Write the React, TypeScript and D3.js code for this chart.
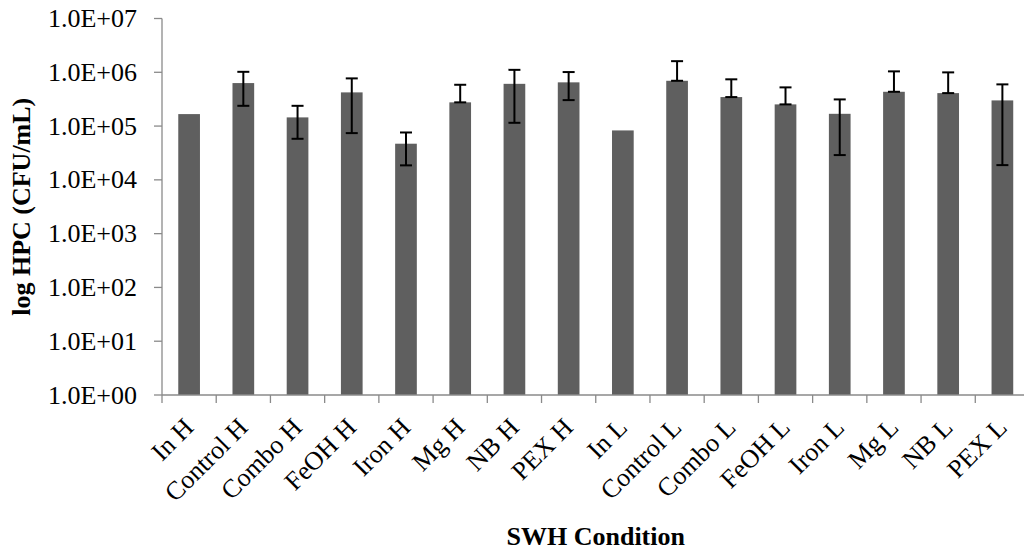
import React from "react";
import * as d3 from "d3";

const categories = [
  "In H", "Control H", "Combo H", "FeOH H", "Iron H", "Mg H", "NB H", "PEX H",
  "In L", "Control L", "Combo L", "FeOH L", "Iron L", "Mg L", "NB L", "PEX L",
];
const means = [
  1.67e5, 6.3e5, 1.45e5, 4.23e5, 4.7e4, 2.76e5, 6.1e5, 6.5e5,
  8.3e4, 6.95e5, 3.46e5, 2.53e5, 1.69e5, 4.34e5, 4.1e5, 3.0e5,
];
const errUpper = [
  null, 1.02e6, 2.38e5, 7.7e5, 7.6e4, 5.86e5, 1.11e6, 1.01e6,
  null, 1.61e6, 7.4e5, 5.24e5, 3.13e5, 1.04e6, 9.96e5, 5.96e5,
];
const errLower = [
  null, 2.38e5, 5.8e4, 7.4e4, 1.86e4, 2.76e5, 1.15e5, 3.04e5,
  null, 6.95e5, 3.46e5, 2.53e5, 2.89e4, 4.34e5, 4.1e5, 1.88e4,
];
const yTicks = [1, 1e1, 1e2, 1e3, 1e4, 1e5, 1e6, 1e7];

const W = 1024;
const H = 551;
const left = 162;
const right = 1029.5;
const top = 18.5;
const bottom = 395;
const axisColor = "#8a8a8a";
const barColor = "#5f5f5f";
const font = "'Liberation Serif', 'Times New Roman', serif";

const fmt = (v: number) => {
  const e = Math.round(Math.log10(v));
  return `1.0E+${String(e).padStart(2, "0")}`;
};

export default function App() {
  const x = d3
    .scaleBand<string>()
    .domain(categories)
    .range([left, right])
    .paddingInner(0.6)
    .paddingOuter(0.3);
  const y = d3.scaleLog().domain([1, 1e7]).range([bottom, top]);
  const step = x.step();
  const bw = x.bandwidth();
  const boundaries = d3.range(categories.length + 1).map((i) => left + i * step);
  const capHalf = 6;

  return (
    <svg
      width={W}
      height={H}
      style={{ position: "absolute", left: 0, top: 0, background: "#fff" }}
      fontFamily={font}
    >
      {/* bars */}
      {categories.map((c, i) => (
        <rect
          key={c}
          x={x(c)}
          y={y(means[i])}
          width={bw}
          height={bottom - y(means[i])}
          fill={barColor}
        />
      ))}

      {/* error bars */}
      {categories.map((c, i) => {
        const hi = errUpper[i];
        const lo = errLower[i];
        if (hi == null || lo == null) return null;
        const cx = (x(c) as number) + bw / 2;
        return (
          <g key={c} stroke="#000" strokeWidth={2}>
            <line x1={cx} x2={cx} y1={y(hi)} y2={y(lo)} />
            <line x1={cx - capHalf} x2={cx + capHalf} y1={y(hi)} y2={y(hi)} />
            <line x1={cx - capHalf} x2={cx + capHalf} y1={y(lo)} y2={y(lo)} />
          </g>
        );
      })}

      {/* y axis */}
      <line x1={left} x2={left} y1={top} y2={bottom} stroke={axisColor} strokeWidth={1.3} />
      {yTicks.map((t) => (
        <g key={t}>
          <line x1={left - 8} x2={left} y1={y(t)} y2={y(t)} stroke={axisColor} strokeWidth={1.3} />
          <text x={137} y={y(t) + 8.5} textAnchor="end" fontSize={26} fill="#000">
            {fmt(t)}
          </text>
        </g>
      ))}

      {/* x axis */}
      <line x1={left} x2={right} y1={bottom} y2={bottom} stroke={axisColor} strokeWidth={1.3} />
      {boundaries.map((bx, i) => (
        <line key={i} x1={bx} x2={bx} y1={bottom} y2={bottom + 8} stroke={axisColor} strokeWidth={1.3} />
      ))}
      {categories.map((c) => {
        const cx = (x(c) as number) + bw / 2;
        return (
          <text
            key={c}
            transform={`translate(${cx + 6},${429}) rotate(-45)`}
            textAnchor="end"
            fontSize={26}
            fill="#000"
          >
            {c}
          </text>
        );
      })}

      {/* axis titles */}
      <text
        transform={`translate(30,${(top + bottom) / 2}) rotate(-90)`}
        textAnchor="middle"
        fontSize={26}
        fontWeight="bold"
        fill="#000"
      >
        log HPC (CFU/mL)
      </text>
      <text
        x={(left + right) / 2}
        y={545}
        textAnchor="middle"
        fontSize={26}
        fontWeight="bold"
        fill="#000"
      >
        SWH Condition
      </text>
    </svg>
  );
}
